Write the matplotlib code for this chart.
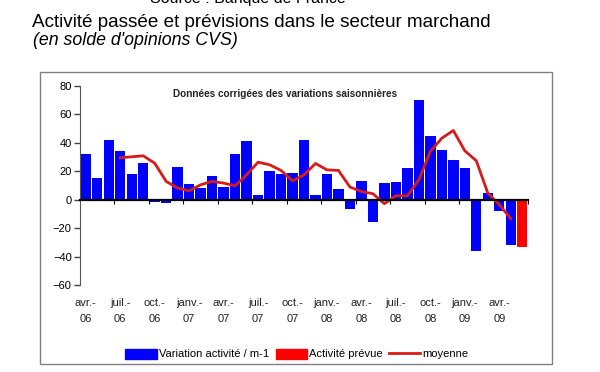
import matplotlib
matplotlib.use('Agg')
import matplotlib.pyplot as plt
from matplotlib.patches import Patch, Rectangle
from matplotlib.lines import Line2D
import matplotlib.transforms as mtransforms

plt.rcParams['font.family'] = ['Liberation Sans', 'DejaVu Sans']

# variation mensuelle de l'activité (avr. 2006 -> mai 2009), puis prévision
activite = [32, 15, 42, 34, 18, 26, -1.5, -2.5, 23, 11, 8, 16.5, 9, 32, 41,
            3, 20.5, 18, 19, 42, 3, 18, 7.5, -6.5, 13, -15.5, 11.5, 12.5,
            22, 70, 44.5, 35, 28, 22, -36, 5, -8, -32]
prevue = [-33.5]
# moyenne, à partir du 4e mois
moyenne = [29.5, 30.2, 30.9, 25.7, 12.9, 8.2, 6.3, 10.5, 12.9, 11.7, 9.8,
           17.5, 26.4, 24.6, 20.6, 13.3, 17.5, 25.5, 21, 20.6, 8.9, 5.8,
           4.2, -2.8, 2.8, 2.8, 14, 34, 43.3, 48.7, 34.4, 27.4, 4.7, -3.5,
           -13.3]
mois = ['avr.-\n06', 'juil.-\n06', 'oct.-\n06', 'janv.-\n07', 'avr.-\n07',
        'juil.-\n07', 'oct.-\n07', 'janv.-\n08', 'avr.-\n08', 'juil.-\n08',
        'oct.-\n08', 'janv.-\n09', 'avr.-\n09']

fig = plt.figure(figsize=(6, 3.72), dpi=100)
ax = fig.add_axes([80 / 600, 87 / 372, 448 / 600, 199 / 372])

n = len(activite)
ax.bar(range(n), activite, width=0.9, color='#0000ff', edgecolor='none')
ax.bar(range(n, n + len(prevue)), prevue, width=0.9, color='#ff0000', edgecolor='none')
start = n - len(moyenne)
ax.plot(range(start, n), moyenne, color='#d91a1a', lw=2)

ax.set_xlim(-0.5, n + len(prevue) - 0.5)
ax.set_ylim(-60, 80)
ax.set_yticks(range(-60, 81, 20))
ax.tick_params(axis='y', direction='out', length=4, width=1, labelsize=8, pad=2, color='#444444')

# axe des abscisses sur le zéro
ax.spines['bottom'].set_position(('data', 0))
ax.spines['bottom'].set_linewidth(1.6)
ax.spines['bottom'].set_color('black')
ax.spines['left'].set_color('#555555')
for s in ['top', 'right']:
    ax.spines[s].set_visible(False)
ax.set_xticks([i + 2.5 for i in range(0, n, 3)])
ax.set_xticklabels([])
ax.tick_params(axis='x', direction='out', length=3, width=0.8)

trans = mtransforms.blended_transform_factory(ax.transData, ax.transAxes)
for i, lab in enumerate(mois):
    ax.text(i * 3, -0.065, lab, transform=trans, ha='center', va='top',
            fontsize=8, linespacing=1.75, color='#222222')

ax.text((285 - 80) / 448, 0.985, 'Données corrigées des variations saisonnières',
        transform=ax.transAxes, ha='center', va='top', fontsize=7.2,
        fontweight='bold', color='#222222')

fig.text(32 / 600, 1 - 27 / 372, 'Activité passée et prévisions dans le secteur marchand',
         fontsize=13.6, va='baseline', ha='left', color='black')
fig.text(33 / 600, 1 - 45 / 372, "(en solde d'opinions CVS)",
         fontsize=12.8, style='italic', va='baseline', ha='left', color='black')
fig.text(248 / 600, 1 - 3 / 372, 'Source : Banque de France',
         fontsize=11.5, va='baseline', ha='center', color='black')

fig.patches.append(Rectangle((40 / 600, 1 - 364 / 372), 512 / 600, 292 / 372,
                             transform=fig.transFigure, fill=False,
                             edgecolor='#808080', lw=1))

handles = [Patch(color='#0000ff'), Patch(color='#ff0000'),
           Line2D([], [], color='#d91a1a', lw=2)]
fig.legend(handles, ['Variation activité / m-1', 'Activité prévue', 'moyenne'],
           loc='center', bbox_to_anchor=(297 / 600, 1 - 354 / 372), ncol=3,
           frameon=False, fontsize=8, handlelength=2.8, handleheight=1,
           handletextpad=0.2, columnspacing=0.6)

fig.savefig('out.png', dpi=100, facecolor='white')
